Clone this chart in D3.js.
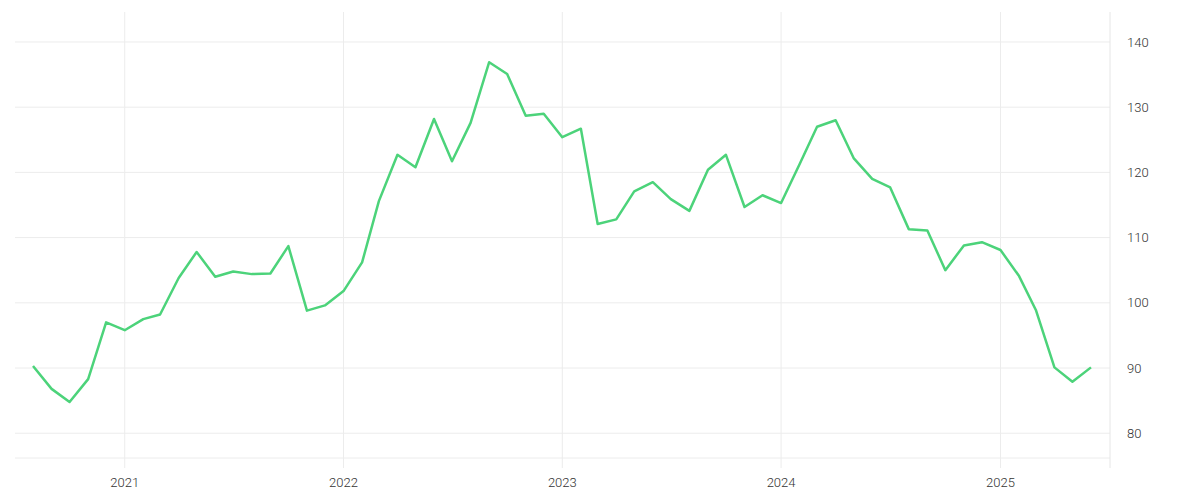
<!DOCTYPE html>
<html><head><meta charset="utf-8">
<script src="https://cdn.jsdelivr.net/npm/d3@7"></script>
<style>body{margin:0;background:#fff}</style>
</head><body><div id="chart"></div>
<script>
const startMonth = [2020, 7]; // Aug 2020
const values = [90.3,86.8,84.8,88.3,97.0,95.8,97.5,98.2,103.8,107.8,104.0,104.8,104.4,104.5,108.7,98.8,99.6,
  101.8,106.2,115.6,122.7,120.8,128.2,121.7,127.6,136.9,135.1,128.7,129.0,
  125.4,126.7,112.1,112.8,117.1,118.5,115.9,114.1,120.4,122.7,114.7,116.5,
  115.3,121.3,127.0,128.0,122.2,119.0,117.7,111.3,111.1,105.0,108.8,109.3,
  108.1,104.1,98.9,90.1,87.9,90.1];
const yTicks = [80,90,100,110,120,130,140];
const xTicks = [2021,2022,2023,2024,2025];

const width = 1200, height = 500;
const data = values.map((v,i) => ({date: new Date(startMonth[0], startMonth[1] + i, 1), v}));

const svg = d3.select("#chart").append("svg")
  .attr("width", width).attr("height", height)
  .style("font", "300 13px Roboto");

const x = d3.scaleTime()
  .domain([new Date(2020,7,1), new Date(2025,5,1)])
  .range([33, 1091]);
const y = d3.scaleLinear().domain([76.2, 144.6]).range([458, 12]);

// grid
svg.append("g").selectAll("line").data(yTicks.concat([76.2])).join("line")
  .attr("x1", 15).attr("x2", 1110)
  .attr("y1", d => y(d)).attr("y2", d => y(d))
  .attr("stroke", "#ececec");
svg.append("g").selectAll("line").data(xTicks).join("line")
  .attr("x1", d => x(new Date(d,0,1))).attr("x2", d => x(new Date(d,0,1)))
  .attr("y1", 12).attr("y2", 468)
  .attr("stroke", "#ececec");
svg.append("line").attr("x1", 1110).attr("x2", 1110).attr("y1", 12).attr("y2", 468)
  .attr("stroke", "#e6e6e6");

// labels
svg.append("g").selectAll("text").data(yTicks).join("text")
  .attr("x", 1127).attr("y", d => y(d)).attr("dy", "0.35em")
  .attr("fill", "#333").text(d => d);
svg.append("g").selectAll("text").data(xTicks).join("text")
  .attr("x", d => x(new Date(d,0,1))).attr("y", 487)
  .attr("text-anchor", "middle").attr("fill", "#333").text(d => d);

// line
svg.append("path").datum(data)
  .attr("fill", "none").attr("stroke", "#4cd37a").attr("stroke-width", 2.5)
  .attr("stroke-linejoin", "round")
  .attr("d", d3.line().x(d => x(d.date)).y(d => y(d.v)));
</script></body></html>
